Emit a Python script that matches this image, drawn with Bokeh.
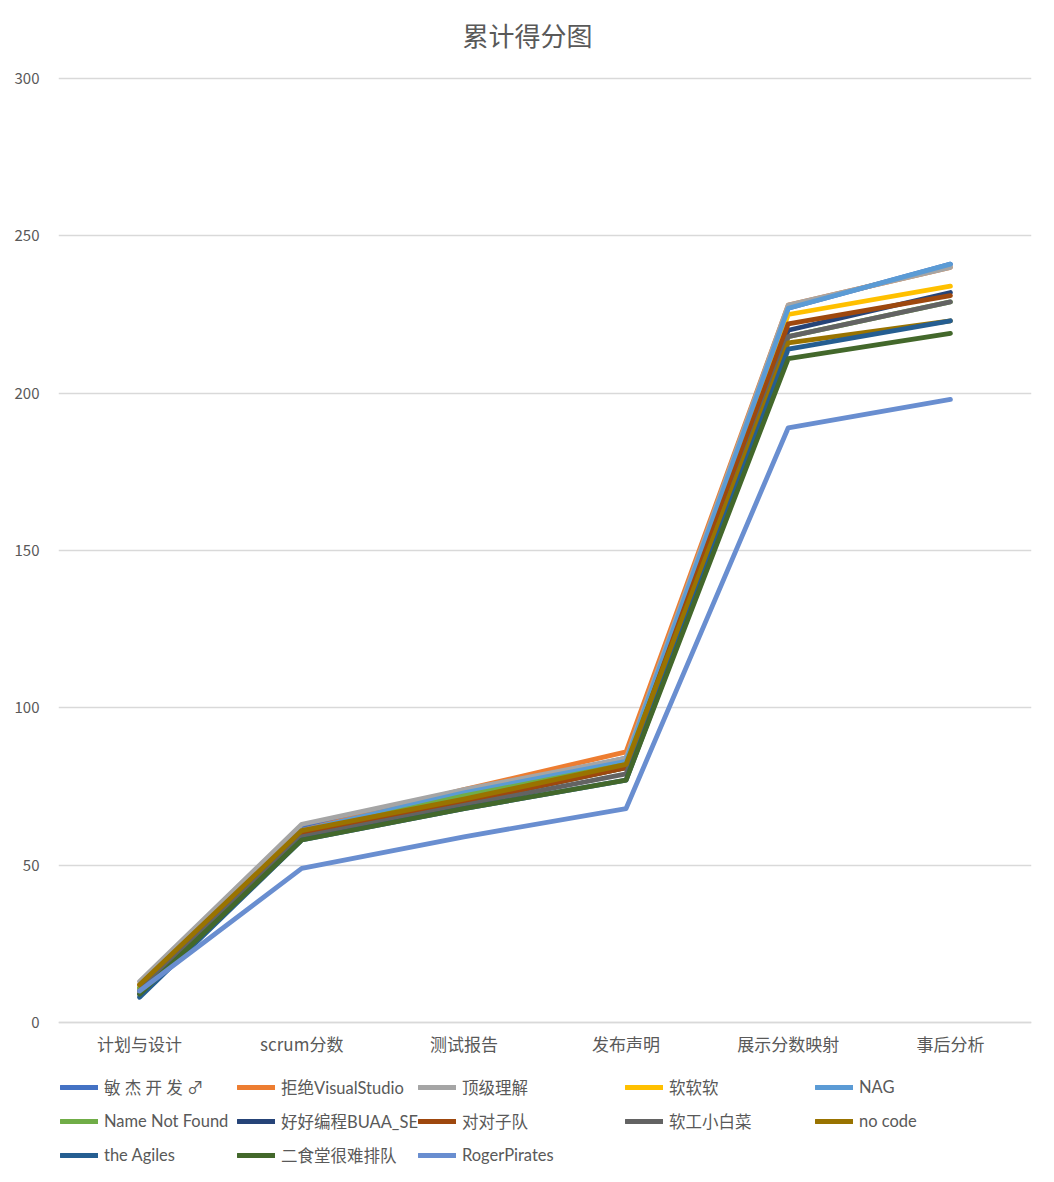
from bokeh.plotting import figure
from bokeh.models import FactorRange, Range1d, Legend, LegendItem, FixedTicker, Label
from bokeh.embed import file_html
from bokeh.resources import INLINE

categories = ["计划与设计", "scrum分数", "测试报告", "发布声明", "展示分数映射", "事后分析"]

team_names = ["敏 杰 开 发 ♂", "拒绝VisualStudio", "顶级理解", "软软软", "NAG",
              "Name Not Found", "好好编程BUAA_SE", "对对子队", "软工小白菜", "no code",
              "the Agiles", "二食堂很难排队", "RogerPirates"]

team_colors = ["#4472C4", "#ED7D31", "#A5A5A5", "#FFC000", "#5B9BD5",
               "#70AD47", "#264478", "#9E480E", "#636363", "#997300",
               "#255E91", "#43682B", "#698ED0"]

score_minjie = [11, 62, 73, 84, 227, 241]
score_juejue = [12, 61, 74, 86, 228, 240]
score_dingji = [13, 63, 74, 84, 228, 240]
score_ruanruan = [11, 60, 70, 81, 225, 234]
score_nag = [10, 61, 73, 83, 227, 241]
score_namenotfound = [11, 60, 72, 82, 218, 229]
score_haohao = [9, 59, 70, 81, 220, 232]
score_duidui = [10, 60, 70, 81, 222, 231]
score_baicai = [10, 59, 69, 79, 218, 229]
score_nocode = [12, 61, 71, 82, 216, 223]
score_agiles = [8, 58, 68, 77, 214, 223]
score_erShiTang = [9, 58, 68, 77, 211, 219]
score_roger = [10, 49, 59, 68, 189, 198]

all_scores = [score_minjie, score_juejue, score_dingji, score_ruanruan, score_nag,
              score_namenotfound, score_haohao, score_duidui, score_baicai, score_nocode,
              score_agiles, score_erShiTang, score_roger]

y_ticks = [0, 50, 100, 150, 200, 250, 300]
chart_title = "累计得分图"

FONT = "Noto Sans CJK SC"
LEG_FONT = "Lato, 'Noto Sans CJK SC'"
TXT = "#595959"

W, H = 1054, 1182
LEFT, RIGHT = 58, 23

# the frame spans the full canvas height so that title and legend can sit
# inside it; value 0 is at y=1022 px and 300 at y=78 px, as in the reference
p = figure(width=W, height=H, x_range=FactorRange(*categories),
           y_range=Range1d(-50.85, 324.79), output_backend="svg",
           toolbar_location=None,
           min_border_left=LEFT, min_border_right=RIGHT, min_border_top=0,
           min_border_bottom=0)

p.outline_line_color = None
p.xgrid.grid_line_color = None
p.ygrid.grid_line_color = "#D9D9D9"
p.ygrid.grid_line_width = 1.3
p.ygrid.ticker = FixedTicker(ticks=y_ticks)

p.yaxis.ticker = FixedTicker(ticks=y_ticks)
p.yaxis.axis_line_color = None
p.yaxis.major_tick_line_color = None
p.yaxis.minor_tick_line_color = None
p.yaxis.major_label_text_font = FONT
p.yaxis.major_label_text_font_size = "15px"
p.yaxis.major_label_text_color = TXT
p.yaxis.major_label_standoff = 13

p.xaxis.fixed_location = 0
p.xaxis.axis_line_color = "#D9D9D9"
p.xaxis.axis_line_width = 1.3
p.xaxis.major_tick_line_color = None
p.xaxis.minor_tick_line_color = None
p.xaxis.major_label_text_font = FONT
p.xaxis.major_label_text_font_size = "17px"
p.xaxis.major_label_text_color = TXT
p.xaxis.major_label_standoff = 3

title = Label(text=chart_title, x=W / 2 - LEFT, y=H - 34, x_units="screen",
              y_units="screen", text_align="center", text_baseline="middle",
              text_font=FONT, text_font_size="26px", text_color=TXT)
p.add_layout(title)

items = []
for name, vals, col in zip(team_names, all_scores, team_colors):
    r = p.line(categories, vals, line_color=col, line_width=4.8,
               line_join="round", line_cap="round")
    items.append(LegendItem(label=name, renderers=[r]))

# five legend columns, items in row-major order as in the reference
col_offsets = [2, 179, 360, 567, 757]
row_h, row_gap = 30, 4
for c, xo in enumerate(col_offsets):
    col_items = items[c::5]
    missing = 3 - len(col_items)
    lg = Legend(items=col_items, orientation="vertical",
                location=(xo, 12 + missing * (row_h + row_gap)),
                label_text_font=LEG_FONT,
                label_text_font_size="16.5px", label_text_color=TXT,
                glyph_width=38, glyph_height=row_h, label_height=row_h,
                label_standoff=6, spacing=row_gap, padding=2, margin=0,
                border_line_color=None, background_fill_alpha=0)
    p.add_layout(lg, "center")

open("out.html", "w").write(file_html(p, INLINE))
